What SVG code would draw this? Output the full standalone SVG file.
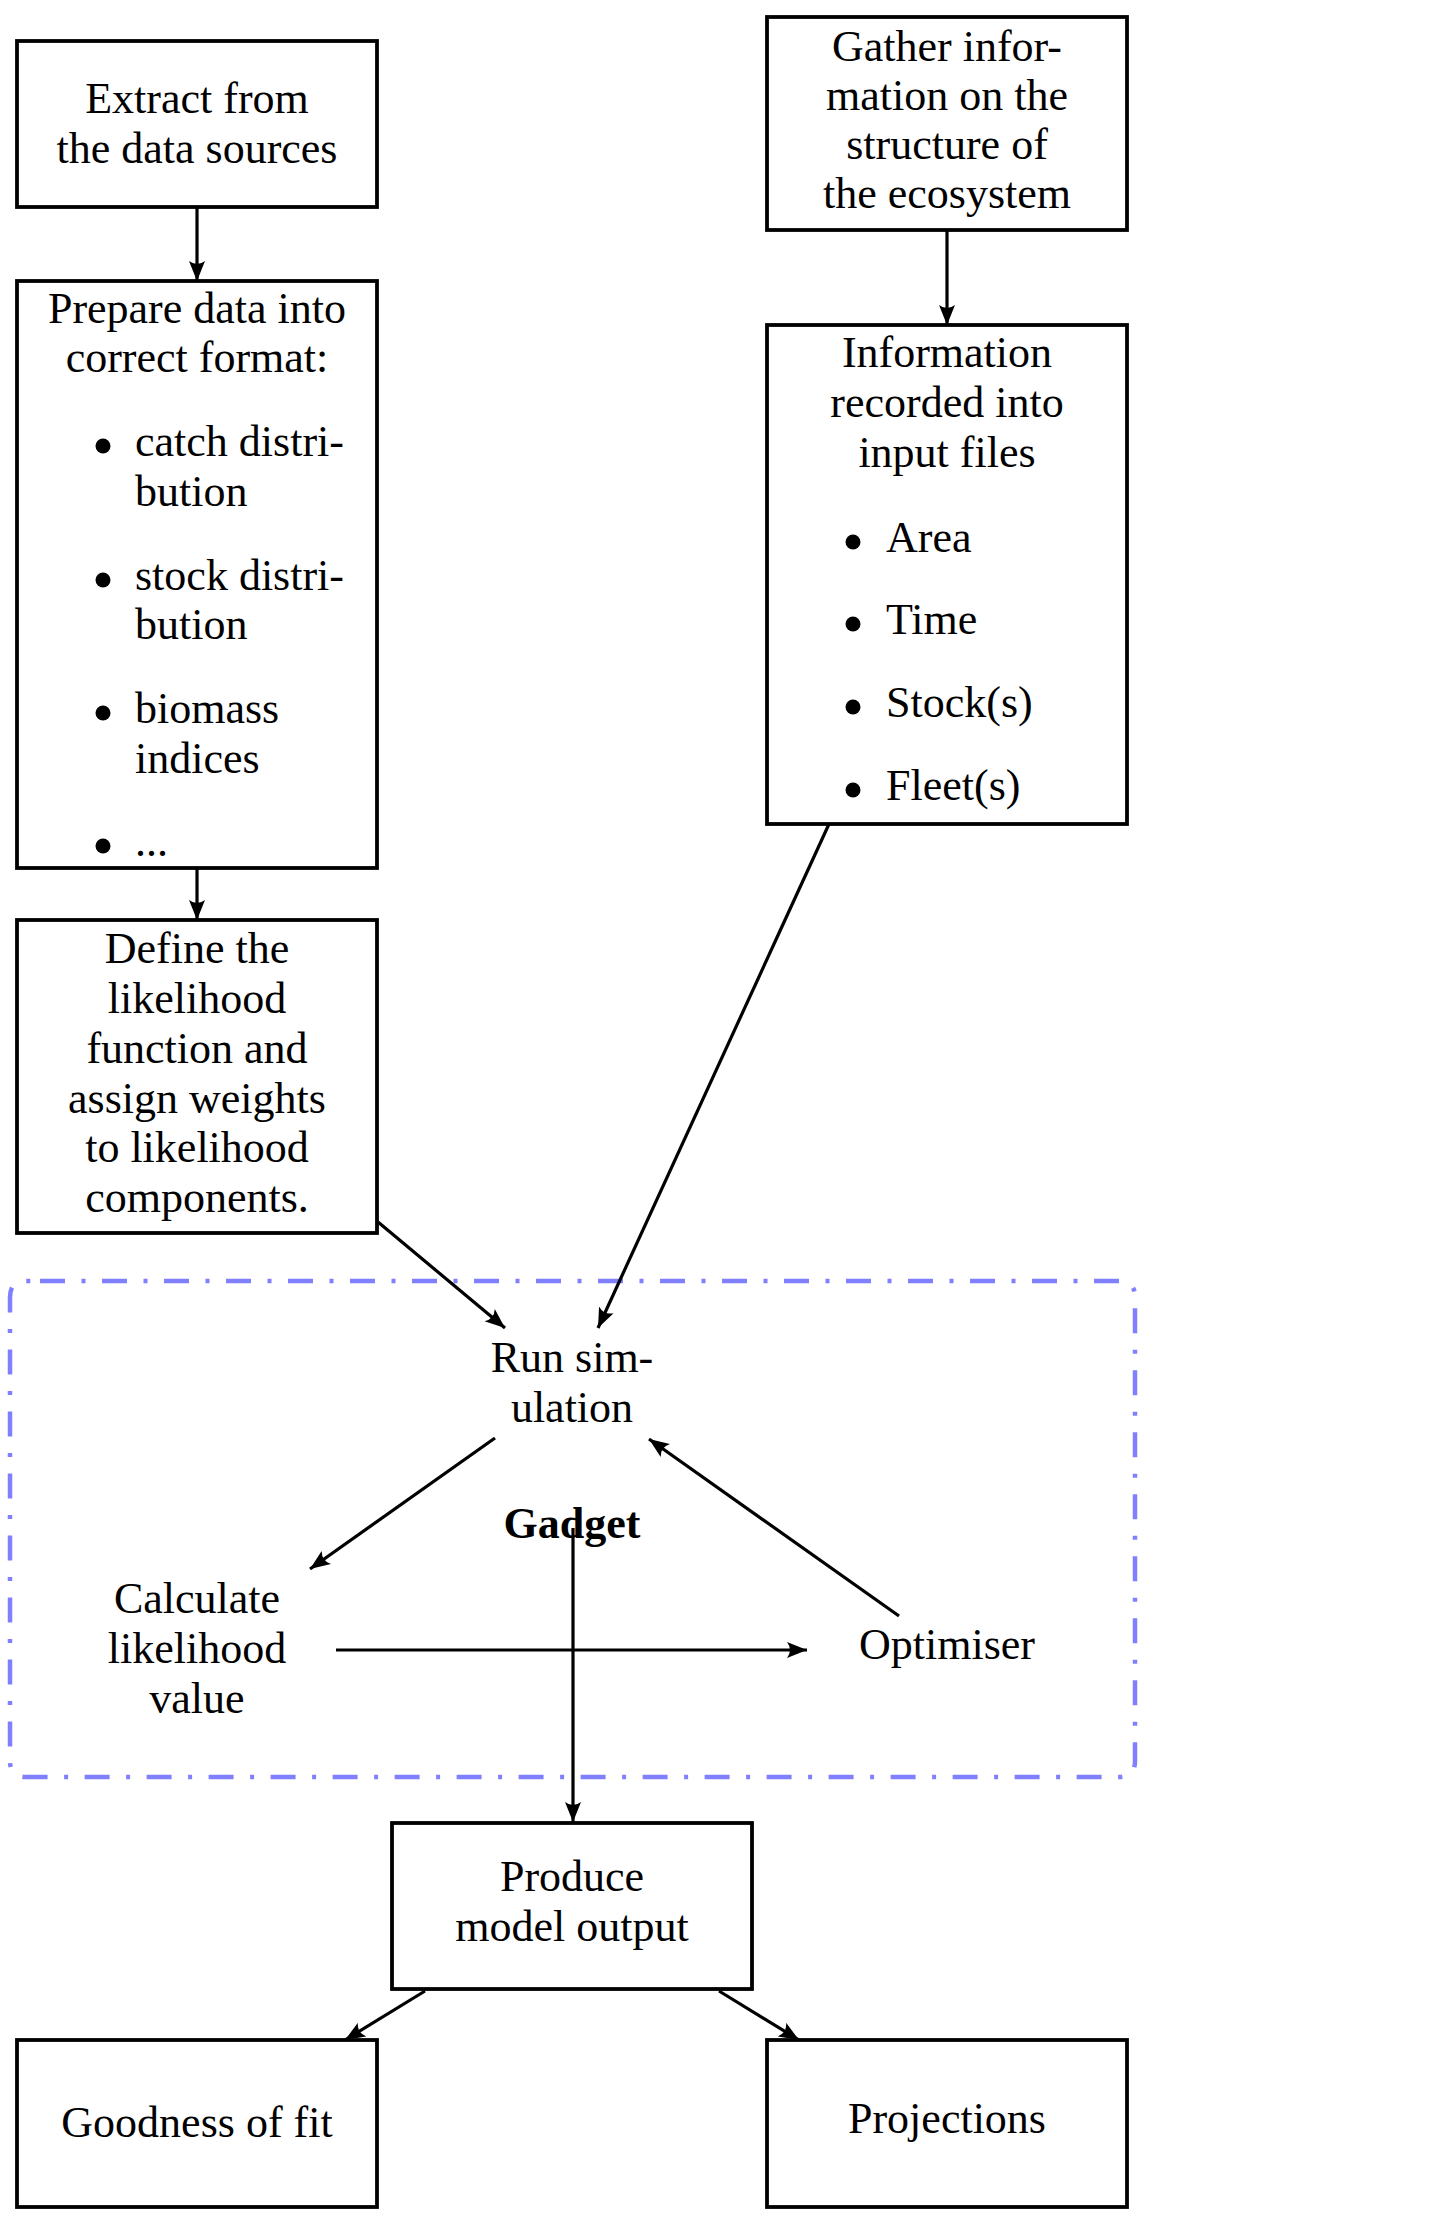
<svg xmlns="http://www.w3.org/2000/svg" width="1436" height="2225" viewBox="0 0 1436 2225">
<defs>
<style>
.box{fill:#fff;stroke:#000;stroke-width:3.8}
.t{font-family:"Liberation Serif","Times New Roman",serif;font-size:44px;fill:#000;text-anchor:middle}
.l{text-anchor:start}
.b{font-weight:bold}
.c{fill:none;stroke:#000;stroke-width:3.2}
.dash{fill:none;stroke:#8080ff;stroke-width:4.5;stroke-dasharray:25 16.5 4 16.5}
</style>
<marker id="ah" markerUnits="userSpaceOnUse" markerWidth="24" markerHeight="18" refX="20" refY="9" orient="auto">
<path d="M0,1 L20,9 L0,17 Q6,9 0,1 Z" fill="#000"/>
</marker>
</defs>
<rect width="1436" height="2225" fill="#fff"/>

<g id="gadget">
<path class="dash" d="M40,1281 L1119,1281 Q1135,1281 1135,1297 L1135,1761 Q1135,1777 1119,1777 L26,1777 Q10,1777 10,1761 L10,1297 Q10,1281 26,1281 L40,1281"/>
<text class="t b" x="572" y="1538">Gadget</text>
</g>

<g id="connectors">
<line class="c" x1="197" y1="207" x2="197" y2="281" marker-end="url(#ah)"/>
<line class="c" x1="947" y1="230" x2="947" y2="325" marker-end="url(#ah)"/>
<line class="c" x1="197" y1="868" x2="197" y2="920" marker-end="url(#ah)"/>
<line class="c" x1="378" y1="1222" x2="505" y2="1328" marker-end="url(#ah)"/>
<line class="c" x1="829" y1="824" x2="598" y2="1328" marker-end="url(#ah)"/>
<line class="c" x1="495" y1="1438" x2="310" y2="1569" marker-end="url(#ah)"/>
<line class="c" x1="899" y1="1616" x2="649" y2="1439" marker-end="url(#ah)"/>
<line class="c" x1="336" y1="1650" x2="807" y2="1650" marker-end="url(#ah)"/>
<line class="c" x1="573" y1="1528" x2="573" y2="1822" marker-end="url(#ah)"/>
<line class="c" x1="425" y1="1991" x2="345" y2="2040" marker-end="url(#ah)"/>
<line class="c" x1="719" y1="1991" x2="799" y2="2040" marker-end="url(#ah)"/>
</g>

<g id="extract">
<rect class="box" x="17" y="41" width="360" height="166"/>
<text class="t" x="197" y="113">Extract from</text>
<text class="t" x="197" y="163">the data sources</text>
</g>

<g id="prepare">
<rect class="box" x="17" y="281" width="360" height="587"/>
<text class="t" x="197" y="323">Prepare data into</text>
<text class="t" x="197" y="372">correct format:</text>
<circle cx="103" cy="446" r="7.5"/>
<text class="t l" x="135" y="456">catch distri-</text>
<text class="t l" x="135" y="506">bution</text>
<circle cx="103" cy="580" r="7.5"/>
<text class="t l" x="135" y="590">stock distri-</text>
<text class="t l" x="135" y="639">bution</text>
<circle cx="103" cy="713" r="7.5"/>
<text class="t l" x="135" y="723">biomass</text>
<text class="t l" x="135" y="773">indices</text>
<circle cx="103" cy="846" r="7.5"/>
<text class="t l" x="135" y="856">...</text>
</g>

<g id="define">
<rect class="box" x="17" y="920" width="360" height="313"/>
<text class="t" x="197" y="963">Define the</text>
<text class="t" x="197" y="1013">likelihood</text>
<text class="t" x="197" y="1063">function and</text>
<text class="t" x="197" y="1113">assign weights</text>
<text class="t" x="197" y="1162">to likelihood</text>
<text class="t" x="197" y="1212">components.</text>
</g>

<g id="gather">
<rect class="box" x="767" y="17" width="360" height="213"/>
<text class="t" x="947" y="61">Gather infor-</text>
<text class="t" x="947" y="110">mation on the</text>
<text class="t" x="947" y="159">structure of</text>
<text class="t" x="947" y="208">the ecosystem</text>
</g>

<g id="info">
<rect class="box" x="767" y="325" width="360" height="499"/>
<text class="t" x="947" y="367">Information</text>
<text class="t" x="947" y="417">recorded into</text>
<text class="t" x="947" y="467">input files</text>
<circle cx="853" cy="542" r="7.5"/>
<text class="t l" x="886" y="552">Area</text>
<circle cx="853" cy="624" r="7.5"/>
<text class="t l" x="886" y="634">Time</text>
<circle cx="853" cy="707" r="7.5"/>
<text class="t l" x="886" y="717">Stock(s)</text>
<circle cx="853" cy="790" r="7.5"/>
<text class="t l" x="886" y="800">Fleet(s)</text>
</g>

<g id="run">
<text class="t" x="572" y="1372">Run sim-</text>
<text class="t" x="572" y="1422">ulation</text>
</g>

<g id="calc">
<text class="t" x="197" y="1613">Calculate</text>
<text class="t" x="197" y="1663">likelihood</text>
<text class="t" x="197" y="1713">value</text>
</g>

<g id="optimiser">
<text class="t" x="947" y="1659">Optimiser</text>
</g>

<g id="produce">
<rect class="box" x="392" y="1823" width="360" height="166"/>
<text class="t" x="572" y="1891">Produce</text>
<text class="t" x="572" y="1941">model output</text>
</g>

<g id="goodness">
<rect class="box" x="17" y="2040" width="360" height="167"/>
<text class="t" x="197" y="2137">Goodness of fit</text>
</g>

<g id="projections">
<rect class="box" x="767" y="2040" width="360" height="167"/>
<text class="t" x="947" y="2133">Projections</text>
</g>
</svg>
